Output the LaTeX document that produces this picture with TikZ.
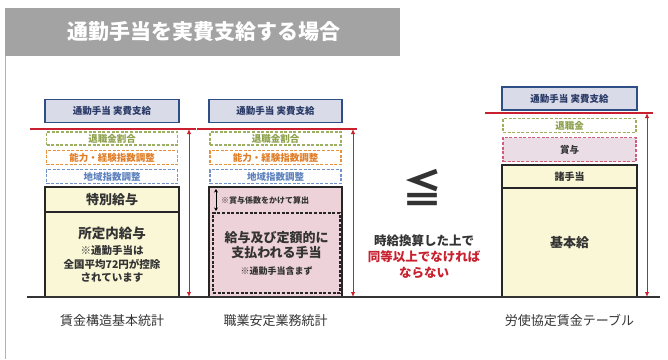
\documentclass[tikz,border=0pt]{standalone}
\usepackage{fontspec}
\setmainfont{Noto Sans CJK JP}
\usetikzlibrary{arrows.meta}
\definecolor{navy}{HTML}{2E4E86}
\definecolor{navytext}{HTML}{2A3A66}
\definecolor{lav}{HTML}{D9DBE8}
\definecolor{grn}{HTML}{9CB060}
\definecolor{grntext}{HTML}{8EA24E}
\definecolor{org}{HTML}{E8903A}
\definecolor{orgtext}{HTML}{E07E28}
\definecolor{blu}{HTML}{7092C8}
\definecolor{blutext}{HTML}{5E82BE}
\definecolor{pnk}{HTML}{D25C7C}
\definecolor{pnkfill}{HTML}{EADDE6}
\definecolor{rosefill}{HTML}{EDD2D9}
\definecolor{cream}{HTML}{FAF7D6}
\definecolor{redc}{HTML}{C8202E}
\definecolor{titlegray}{HTML}{A3A3A3}
\definecolor{txt}{HTML}{333333}
\tikzset{
  topbox/.style={draw=navy, line width=1.6pt, fill=lav, inner sep=0pt,
    text=navytext, font=\fontsize{9.5}{11}\selectfont\bfseries},
  dbox/.style={dash pattern=on 3pt off 1.6pt, line width=1.3pt, fill=white, inner sep=0pt,
    font=\fontsize{9.5}{11}\selectfont\bfseries},
  solidbox/.style={draw=black!85, line width=1.3pt, fill=cream, inner sep=0pt, text=txt},
  redline/.style={draw=redc, line width=1.8pt},
  redarrow/.style={draw=redc, line width=1pt, {Latex[length=5pt,width=4.5pt]}-{Latex[length=5pt,width=4.5pt]}},
  lbl/.style={text=txt, font=\fontsize{13}{15}\selectfont},
}
\begin{document}
\begin{tikzpicture}[x=1pt,y=-1pt]
\useasboundingbox (0,0) rectangle (668,359);
% frame and title
\draw[black!30, line width=0.8pt] (5,56) -- (5,359);
\node[fill=titlegray, minimum width=395pt, minimum height=48pt, inner sep=0pt] (titlebar) at (202.5,32) {};
\node[text=white, font=\fontsize{21}{24}\selectfont\bfseries] (title) at (204,32) {通勤手当を実費支給する場合};

% ---------- column 1 ----------
\node[topbox, minimum width=134pt, minimum height=23pt] (t1) at (112,111) {通勤手当\ 実費支給};
\coordinate (r1a) at (30,129); \coordinate (r1b) at (196,129);
\draw[redline] (r1a) -- (r1b);
\node[dbox, draw=grn, text=grntext, minimum width=131pt, minimum height=13pt] (g1) at (112,138.5) {退職金割合};
\node[dbox, draw=org, text=orgtext, minimum width=131pt, minimum height=14pt] (o1) at (112,157.5) {能力・経験指数調整};
\node[dbox, draw=blu, text=blutext, minimum width=131pt, minimum height=14pt] (b1) at (112,176.5) {地域指数調整};
\node[solidbox, minimum width=134pt, minimum height=25pt, font=\fontsize{13}{15}\selectfont\bfseries] (s1) at (112,199.5) {特別給与};
\node[solidbox, minimum width=134pt, minimum height=85pt, align=center,
  font=\fontsize{10.5}{13.5}\selectfont\bfseries] (k1) at (112,254.5)
  {{\fontsize{13.5}{17}\selectfont 所定内給与}\\[3pt]※通勤手当は\\全国平均72円が控除\\されています};
\coordinate (a1t) at (189,129); \coordinate (a1b) at (189,297);
\draw[redarrow] (a1t) -- (a1b);
\node[lbl] (l1) at (112,321) {賃金構造基本統計};

% ---------- column 2 ----------
\node[topbox, minimum width=133pt, minimum height=23pt] (t2) at (275.5,111) {通勤手当\ 実費支給};
\coordinate (r2a) at (197,129); \coordinate (r2b) at (357,129);
\draw[redline] (r2a) -- (r2b);
\node[dbox, draw=grn, text=grntext, minimum width=131pt, minimum height=13pt] (g2) at (275.5,138.5) {退職金割合};
\node[dbox, draw=org, text=orgtext, minimum width=131pt, minimum height=14pt] (o2) at (275.5,157.5) {能力・経験指数調整};
\node[dbox, draw=blu, text=blutext, minimum width=131pt, minimum height=14pt] (b2) at (275.5,176.5) {地域指数調整};
\node[solidbox, fill=rosefill, minimum width=133pt, minimum height=110pt] (p2) at (275.5,242) {};
\node[draw=black!85, dash pattern=on 3pt off 1.6pt, line width=1.2pt, minimum width=127pt, minimum height=80pt,
  inner sep=0pt, align=center, text=txt, font=\fontsize{13}{15.5}\selectfont\bfseries] (q2) at (276.5,253)
  {給与及び定額的に\\支払われる手当\\[1pt]{\fontsize{9}{11}\selectfont ※通勤手当含まず}};
\coordinate (c2t) at (216,189); \coordinate (c2b) at (216,211);
\draw[black, line width=1pt, {Stealth[length=3.5pt,width=4pt]}-{Stealth[length=3.5pt,width=4pt]}] (c2t) -- (c2b);
\node[anchor=west, text=txt, inner sep=0pt, font=\fontsize{8}{10}\selectfont\bfseries] (n2) at (221,200) {※賞与係数をかけて算出};
\coordinate (a2t) at (353,129); \coordinate (a2b) at (353,297);
\draw[redarrow] (a2t) -- (a2b);
\node[lbl] (l2) at (275.5,321) {職業安定業務統計};

% ---------- middle ----------
\node[text=txt, font=\fontsize{40}{40}\selectfont\bfseries] (leq) at (422,187) {≦};
\node[align=center, font=\fontsize{12.5}{16}\selectfont\bfseries, text=txt] (mid) at (424,257)
  {時給換算した上で\\\textcolor{redc}{同等以上でなければ}\\\textcolor{redc}{ならない}};

% ---------- column 3 ----------
\node[topbox, minimum width=135pt, minimum height=23pt] (t3) at (569.5,98.5) {通勤手当\ 実費支給};
\coordinate (r3a) at (485,113); \coordinate (r3b) at (653,113);
\draw[redline] (r3a) -- (r3b);
\node[dbox, draw=grn, text=grntext, minimum width=133pt, minimum height=14pt] (g3) at (569.5,125.5) {退職金};
\node[dbox, draw=pnk, fill=pnkfill, text=txt, minimum width=133pt, minimum height=24pt] (p3) at (569.5,149.5) {賞与};
\node[solidbox, minimum width=135pt, minimum height=23pt, font=\fontsize{10}{12}\selectfont\bfseries] (s3) at (569.5,176.5) {諸手当};
\node[solidbox, minimum width=135pt, minimum height=109pt, font=\fontsize{13}{15}\selectfont\bfseries] (k3) at (569.5,242.5) {基本給};
\coordinate (a3t) at (647,113); \coordinate (a3b) at (647,297);
\draw[redarrow] (a3t) -- (a3b);
\node[lbl] (l3) at (569.5,320) {労使協定賃金テーブル};

% baseline
\coordinate (bl) at (27,297); \coordinate (br) at (660,297);
\draw[black!80, line width=1.8pt] (bl) -- (br);
\end{tikzpicture}
\end{document}
